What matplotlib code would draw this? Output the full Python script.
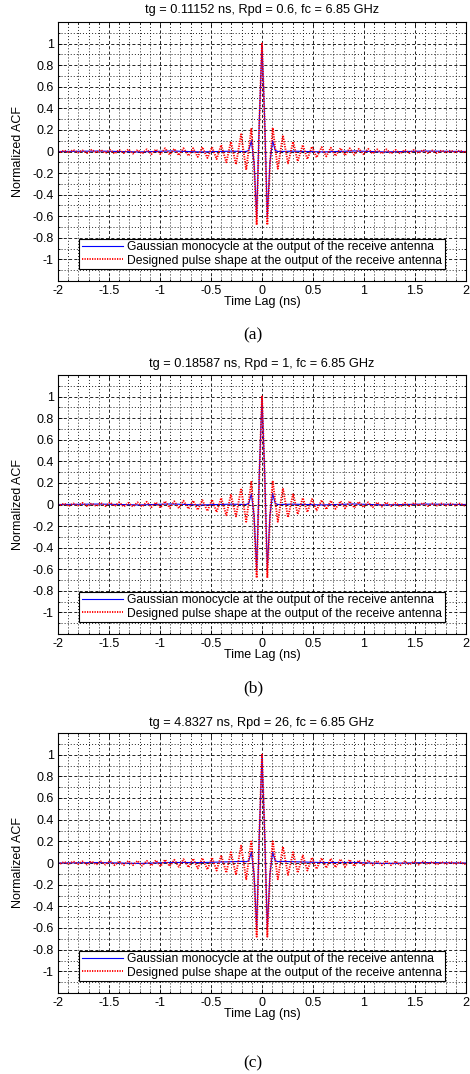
import matplotlib
matplotlib.use('Agg')
import matplotlib.pyplot as plt
from matplotlib.ticker import MultipleLocator

plt.rcParams['font.family'] = ['Liberation Sans', 'DejaVu Sans']
plt.rcParams['lines.scale_dashes'] = False

# panel titles
titles = ['tg = 0.11152 ns, Rpd = 0.6, fc = 6.85 GHz',
          'tg = 0.18587 ns, Rpd = 1, fc = 6.85 GHz',
          'tg = 4.8327 ns, Rpd = 26, fc = 6.85 GHz']
panel_labels = ['(a)', '(b)', '(c)']
legend_labels = ['Gaussian monocycle at the output of the receive antenna',
                 'Designed pulse shape at the output of the receive antenna']
x_ticks = [-2, -1.5, -1, -0.5, 0, 0.5, 1, 1.5, 2]
x_ticklabels = ['-2', '-1.5', '-1', '-0.5', '0', '0.5', '1', '1.5', '2']
y_ticks = [-1, -0.8, -0.6, -0.4, -0.2, 0, 0.2, 0.4, 0.6, 0.8, 1]
y_ticklabels = ['-1', '-0.8', '-0.6', '-0.4', '-0.2', '0', '0.2', '0.4', '0.6', '0.8', '1']

# Gaussian monocycle ACF (time lag in ns)
blue_lag = [-2.0, -1.6, -1.2, -0.9, -0.6, -0.3, -0.18, -0.156, -0.13, -0.104, -0.078, -0.052, -0.026,
            0.0, 0.026, 0.052, 0.078, 0.104, 0.13, 0.156, 0.18, 0.3, 0.6, 0.9, 1.2, 1.6, 2.0]
blue_a = [0.0, 0.004, -0.004, 0.005, -0.004, 0.003, 0.0, 0.0, 0.01, 0.10, -0.10, -0.61, 0.30,
          1.0, 0.30, -0.61, -0.10, 0.10, 0.01, 0.0, 0.0, 0.003, -0.004, 0.005, -0.004, 0.004, 0.0]
blue_b = [0.0, 0.004, -0.004, 0.005, -0.004, 0.003, 0.0, 0.0, 0.01, 0.10, -0.10, -0.61, 0.30,
          1.0, 0.30, -0.61, -0.10, 0.10, 0.01, 0.0, 0.0, 0.003, -0.004, 0.005, -0.004, 0.004, 0.0]
blue_c = [0.0, 0.004, -0.004, 0.005, 0.004, 0.012, 0.015, 0.012, 0.02, 0.10, -0.10, -0.61, 0.28,
          1.0, 0.28, -0.61, -0.10, 0.10, 0.02, 0.012, 0.015, 0.012, 0.004, 0.005, -0.004, 0.004, 0.0]

# designed pulse ACF
red_lag = [-2.0, -1.985, -1.94, -1.895, -1.85, -1.805, -1.76, -1.715, -1.67, -1.625, -1.58, -1.535,
           -1.49, -1.445, -1.4, -1.355, -1.31, -1.265, -1.22, -1.175, -1.13, -1.085, -1.04, -0.995,
           -0.95, -0.905, -0.86, -0.815, -0.77, -0.72, -0.675, -0.63, -0.585, -0.535, -0.49, -0.445,
           -0.4, -0.35, -0.305, -0.255, -0.205, -0.155, -0.105, -0.078, -0.052, -0.026,
           0.0,
           0.026, 0.052, 0.078, 0.105, 0.155, 0.205, 0.255, 0.305, 0.35, 0.4, 0.445, 0.49, 0.535,
           0.585, 0.63, 0.675, 0.72, 0.77, 0.815, 0.86, 0.905, 0.95, 0.995, 1.04, 1.085, 1.13,
           1.175, 1.22, 1.265, 1.31, 1.355, 1.4, 1.445, 1.49, 1.535, 1.58, 1.625, 1.67, 1.715,
           1.76, 1.805, 1.85, 1.895, 1.94, 1.985, 2.0]
red_a = [0.0, -0.01, 0.01, -0.01, 0.015, -0.01, 0.01, -0.015, 0.015, -0.01, 0.015, -0.015,
         0.015, -0.02, 0.015, -0.015, 0.02, -0.02, 0.015, -0.02, 0.02, -0.025, 0.02, -0.025,
         0.03, -0.03, 0.025, -0.035, 0.03, -0.04, 0.03, -0.05, 0.04, -0.06, 0.04, -0.07,
         0.06, -0.10, 0.09, -0.12, 0.16, -0.17, 0.21, -0.12, -0.68, 0.28,
         1.0,
         0.28, -0.68, -0.12, 0.22, -0.16, 0.15, -0.11, 0.09, -0.09, 0.06, -0.07, 0.045, -0.055,
         0.04, -0.045, 0.035, -0.04, 0.03, -0.035, 0.03, -0.03, 0.025, -0.025, 0.025, -0.02, 0.02,
         -0.02, 0.02, -0.02, 0.015, -0.02, 0.015, -0.015, 0.015, -0.015, 0.015, -0.015, 0.01, -0.015,
         0.01, -0.01, 0.01, -0.01, 0.01, -0.01, 0.0]
red_b = [0.0, -0.01, 0.01, -0.015, 0.01, -0.01, 0.015, -0.015, 0.01, -0.015, 0.015, -0.015,
         0.02, -0.015, 0.02, -0.02, 0.015, -0.02, 0.02, -0.02, 0.025, -0.025, 0.02, -0.03,
         0.03, -0.03, 0.03, -0.035, 0.035, -0.04, 0.035, -0.05, 0.04, -0.06, 0.045, -0.07,
         0.06, -0.10, 0.09, -0.11, 0.15, -0.16, 0.21, -0.12, -0.68, 0.28,
         1.0,
         0.28, -0.68, -0.12, 0.22, -0.16, 0.15, -0.12, 0.10, -0.09, 0.06, -0.07, 0.05, -0.055,
         0.04, -0.045, 0.035, -0.04, 0.03, -0.035, 0.03, -0.03, 0.025, -0.025, 0.02, -0.025, 0.02,
         -0.02, 0.02, -0.015, 0.015, -0.02, 0.015, -0.015, 0.015, -0.01, 0.015, -0.015, 0.01, -0.01,
         0.01, -0.01, 0.01, -0.01, 0.01, -0.01, 0.0]
red_c = [0.0, -0.01, 0.01, -0.01, 0.015, -0.01, 0.015, -0.015, 0.015, -0.015, 0.015, -0.015,
         0.02, -0.02, 0.015, -0.02, 0.02, -0.02, 0.02, -0.025, 0.02, -0.025, 0.025, -0.03,
         0.03, -0.03, 0.03, -0.035, 0.035, -0.04, 0.04, -0.05, 0.045, -0.06, 0.05, -0.07,
         0.07, -0.09, 0.10, -0.11, 0.16, -0.15, 0.21, -0.12, -0.68, 0.28,
         1.0,
         0.28, -0.68, -0.12, 0.21, -0.15, 0.15, -0.11, 0.10, -0.09, 0.07, -0.07, 0.05, -0.055,
         0.045, -0.045, 0.04, -0.04, 0.035, -0.035, 0.03, -0.03, 0.025, -0.025, 0.025, -0.02, 0.02,
         -0.02, 0.02, -0.02, 0.015, -0.02, 0.015, -0.015, 0.015, -0.015, 0.015, -0.01, 0.01, -0.015,
         0.01, -0.01, 0.01, -0.01, 0.01, -0.01, 0.0]

blues = [blue_a, blue_b, blue_c]
reds = [red_a, red_b, red_c]

W, H = 470, 1074
# axes box in pixels: top, bottom
boxes = [(22, 281), (375, 634), (733, 993)]
title_y = [10, 364, 723]
label_y = [335, 688, 1063]

fig = plt.figure(figsize=(W / 100, H / 100), dpi=100)

for i in range(3):
    top, bot = boxes[i]
    ax = fig.add_axes([58 / W, 1 - bot / H, 408 / W, (bot - top) / H])
    ax.plot(blue_lag, blues[i], color='b', lw=0.8, label=legend_labels[0])
    ax.plot(red_lag, reds[i], color='r', lw=1.35, ls=(0, (0.9, 0.9)), label=legend_labels[1])
    ax.set_xlim(-2, 2)
    ax.set_ylim(-1.2, 1.2)
    ax.set_xticks(x_ticks)
    ax.set_xticklabels(x_ticklabels)
    ax.xaxis.set_minor_locator(MultipleLocator(0.1))
    ax.set_yticks(y_ticks)
    ax.set_yticklabels(y_ticklabels)
    ax.yaxis.set_minor_locator(MultipleLocator(0.1))
    ax.grid(True, which='major', color='k', lw=0.6, ls=(0, (2.2, 1.6)))
    ax.grid(True, which='minor', color='k', lw=0.6, ls=(0, (0.7, 1.5)))
    ax.set_axisbelow(True)
    ax.tick_params(which='both', direction='in', top=True, right=True, labelsize=9, pad=3)
    ax.tick_params(which='major', length=3, width=0.6)
    ax.tick_params(which='minor', length=1.5, width=0.6)
    for s in ax.spines.values():
        s.set_linewidth(0.8)
    ax.set_xlabel('Time Lag (ns)', fontsize=9, va='center')
    ax.xaxis.set_label_coords(0.5, -21 / (bot - top))
    ax.set_ylabel('Normalized ACF', fontsize=9, va='center')
    ax.yaxis.set_label_coords(-40 / 408, 0.5)
    leg = ax.legend(loc='lower center', bbox_to_anchor=(0.5, 0.046), fontsize=8.7,
                    fancybox=False, framealpha=1, edgecolor='k', borderaxespad=0,
                    handlelength=3.4, handletextpad=0.35, borderpad=0.2, labelspacing=0.1)
    leg.get_frame().set_linewidth(0.8)
    fig.text(262 / W, 1 - title_y[i] / H, titles[i], ha='center', va='center', fontsize=9.2)
    fig.text(253 / W, 1 - label_y[i] / H, panel_labels[i], ha='center', va='center',
             fontsize=12.5, family='Liberation Serif')

fig.savefig('out.png', dpi=100)
